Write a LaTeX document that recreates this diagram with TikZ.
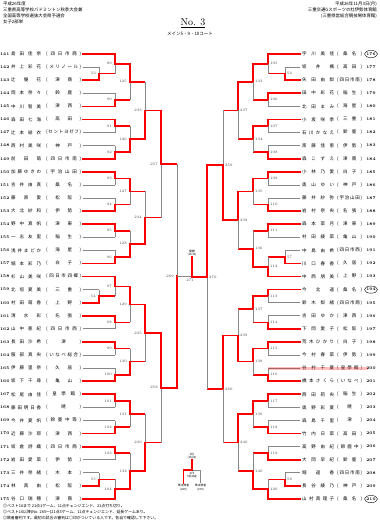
\documentclass[tikz,border=0pt]{standalone}
\usepackage{fontspec}
\newfontfamily\jp{Noto Sans CJK JP}
\usetikzlibrary{calc}

\definecolor{winred}{RGB}{250,0,0}
\definecolor{losegray}{RGB}{135,135,135}

\tikzset{
	win/.style={draw=winred, line width=1.7pt, line cap=rect},
	feed/.style={draw=winred, line width=1.7pt},
	lose/.style={draw=losegray, line width=0.8pt},
	lbl/.style={font=\fontsize{3.6}{4}\selectfont, text=black!75, inner sep=0pt},
	lblL/.style={lbl, anchor=east, xshift=-3pt},
	lblR/.style={lbl, anchor=west, xshift=2pt},
	pno/.style={font=\bfseries\fontsize{4}{5}\selectfont, inner sep=0pt},
	pname/.style={font=\jp\fontsize{4.5}{5}\selectfont, inner sep=0pt, anchor=west},
	head/.style={font=\jp\fontsize{4.4}{6}\selectfont, inner sep=0pt},
	tiny/.style={font=\jp\fontsize{2.8}{3.4}\selectfont, inner sep=0.3pt, align=center},
}

% one bout: name, top feeder, bottom feeder, column, top style, bottom style, number, label style
\newcommand\bout[8]{%
	\coordinate (#1) at ($(#2 -| #4)!.5!(#3 -| #4)$);
	\draw[feed] (#2) -- (#2 -| #4);
	\draw[feed] (#3) -- (#3 -| #4);
	\draw[#5] (#2 -| #4) -- (#1);
	\draw[#6] (#3 -| #4) -- (#1);
	\node[#8] (l#1) at (#1) {#7};
}

\begin{document}
\begin{tikzpicture}[x=1pt, y=-1pt]
	\useasboundingbox (0,0) rectangle (380,528);

	\coordinate (LP) at (99,0);
	\coordinate (L1) at (115,0);
	\coordinate (L2) at (130,0);
	\coordinate (L3) at (145,0);
	\coordinate (L4) at (161,0);
	\coordinate (L5) at (177,0);
	\coordinate (F) at (192,0);
	\coordinate (R5) at (207,0);
	\coordinate (R4) at (223,0);
	\coordinate (R3) at (238,0);
	\coordinate (R2) at (253,0);
	\coordinate (R1) at (268,0);
	\coordinate (RP) at (285,0);

	% headings
	\node[head, anchor=north west, align=left] (info) at (3,1.5)
		{平成26年度\\三重県高等学校バドミントン秋季大会兼\\全国高等学校選抜大会県予選会\\女子2部単};
	\node[head, anchor=north east, align=right] (place) at (377,1.5)
		{平成26年11月3日(月)\\三重交通Gスポーツの杜伊勢体育館\\(三重県営総合競技場体育館)};
	\node[font=\fontsize{10}{10}\selectfont, inner sep=0pt] (sheet) at (193,23) {\underline{No. 3}};
	\node[head, font=\jp\fontsize{4.5}{5}\selectfont] (court) at (190,34) {メイン5・9・10コート};

	% left players
	\foreach \n/\who/\school/\col/\st [count=\i from 0] in {
		141/島 田 佳 奈/四 日 市 商/L1/win,
		142/井 上 彩 花/メ リ ノ ー ル/LP/lose,
		143/辻 優 花/津 商/LP/win,
		144/岡 本 奈 々/鈴 鹿/L1/lose,
		145/中 川 智 美/津 西/L1/win,
		146/森 田 七 海/高 田/L1/win,
		147/辻 本 結 衣/セ ン ト ヨ ゼ フ/L1/lose,
		148/西 村 美 咲/神 戸/L1/lose,
		149/前 田 萌/四 日 市 南/L1/win,
		150/加 藤 ゆ き の/宇 治 山 田/L1/win,
		151/吉 井 由 真/桑 名/L1/lose,
		152/藤 原 愛/松 阪/L1/lose,
		153/大 北 紗 和/伊 勢/L1/win,
		154/野 中 真 帆/津 東/L1/win,
		155/一 志 友 里/稲 生/L1/lose,
		156/浅 井 ま ど か/海 星/L1/lose,
		157/堀 本 彩 乃/白 子/L1/win,
		158/杉 山 美 咲/四 日 市 四 郷/L1/win,
		159/北 垣 夏 美/三 重/LP/lose,
		160/村 田 萌 香/上 野/LP/win,
		161/清 水 彩/名 張/L1/win,
		162/山 中 亜 紀/四 日 市 西/L1/lose,
		163/長 田 沙 希/津/L1/win,
		164/服 部 真 央/い な べ 総 合/L1/lose,
		165/伊 藤 里 奈/久 居/L1/lose,
		166/坂 下 千 尋/亀 山/L1/win,
		167/松 尾 由 佳/皇 學 館/L1/win,
		168/藤 田 明 日 香/暁/L1/lose,
		169/今 井 夏 帆/鈴 鹿 中 等/L1/lose,
		170/近 藤 沙 耶/津 西/L1/win,
		171/坂 倉 詩 織/四 日 市 商/L1/win,
		172/岩 田 愛 菜/伊 勢/L1/lose,
		173/三 井 奈 緒/木 本/LP/lose,
		174/林 真 由/松 阪/LP/win,
		175/谷 口 瑞 穂/津 商/L1/win}
	{
		\pgfmathsetmacro\y{54+13.09*\i}
		\node[pno, anchor=east] (n\n) at (9.5,\y) {\n};
		\node[pname] (m\n) at (11,\y) {\makebox[30pt][s]{\who}};
		\node[pname] (c\n) at (46,\y) {\makebox[35pt][s]{(\ \school\ )}};
		\coordinate (s\n) at (83,\y);
		\draw[\st] (s\n) -- (s\n -| \col) coordinate (p\n);
	}

	% right players
	\foreach \n/\who/\school/\col/\st [count=\i from 0] in {
		176/宇 川 美 佳/桑 名/R1/win,
		177/坂 井 楓/高 田/RP/lose,
		178/矢 田 由 梨/四 日 市 南/RP/win,
		179/田 中 彩 花/稲 生/R1/win,
		180/北 田 ま み/海 星/R1/lose,
		181/小 坂 咲 季/三 重/R1/win,
		182/石 川 か な え/鈴 鹿/R1/lose,
		183/斎 藤 佳 恵/伊 勢/R1/lose,
		184/森 こ ず え/津 商/R1/win,
		185/小 林 乃 愛/白 子/R1/win,
		186/奥 山 ゆ い/神 戸/R1/lose,
		187/藤 井 紗 弥/宇 治 山 田/R1/lose,
		188/岩 村 奈 央/名 張/R1/win,
		189/森 本 菜 月/津 東/R1/win,
		190/村 田 綾 菜/亀 山/R1/lose,
		191/中 島 由 希/四 日 市 西/RP/lose,
		192/川 口 春 香/久 居/RP/win,
		193/中 西 朋 美/上 野/R1/win,
		194/今 北 遥/桑 名/R1/win,
		195/鈴 木 梨 緒/四 日 市 商/R1/lose,
		196/吉 田 ゆ か/津 西/R1/lose,
		197/下 岡 愛 子/松 阪/R1/win,
		198/荒 木 ひ か り/白 子/R1/win,
		199/今 村 春 菜/伊 勢/R1/lose,
		200/谷 村 千 夏/皇 學 館/R1/lose,
		201/橋 本 さ く ら/い な べ/R1/win,
		202/西 田 莉 央/稲 生/R1/win,
		203/奥 野 彩 夏/暁/R1/lose,
		204/森 島 千 里/津/R1/lose,
		205/竹 内 日 菜/高 田/R1/win,
		206/高 野 由 紀/鈴 鹿 中/R1/lose,
		207/大 岡 早 紀/鈴 鹿/R1/win,
		208/堀 遥 香/四 日 市 南/RP/lose,
		209/長 谷 綾 乃/神 戸/RP/win,
		210/山 村 真 理 子/桑 名/R1/win}
	{
		\pgfmathsetmacro\y{54+13.09*\i}
		\node[pname] (m\n) at (302,\y) {\makebox[32pt][s]{\who}};
		\node[pname] (c\n) at (337,\y) {\makebox[25pt][s]{(\ \school\ )}};
		\node[pno] (n\n) at (371,\y) {\n};
		\coordinate (s\n) at (300,\y);
		\draw[\st] (s\n) -- (s\n -| \col) coordinate (p\n);
	}

	% left bracket
	\bout{m53}{p142}{p143}{LP}{lose}{win}{53}{lblL}
	\bout{m54}{p159}{p160}{LP}{lose}{win}{54}{lblL}
	\bout{m55}{p173}{p174}{LP}{lose}{win}{55}{lblL}
	\bout{m89}{p141}{m53}{L1}{win}{lose}{89}{lblL}
	\bout{m90}{p144}{p145}{L1}{lose}{win}{90}{lblL}
	\bout{m91}{p146}{p147}{L1}{win}{lose}{91}{lblL}
	\bout{m92}{p148}{p149}{L1}{lose}{win}{92}{lblL}
	\bout{m93}{p150}{p151}{L1}{win}{lose}{93}{lblL}
	\bout{m94}{p152}{p153}{L1}{lose}{win}{94}{lblL}
	\bout{m95}{p154}{p155}{L1}{win}{lose}{95}{lblL}
	\bout{m96}{p156}{p157}{L1}{lose}{win}{96}{lblL}
	\bout{m97}{p158}{m54}{L1}{win}{lose}{97}{lblL}
	\bout{m98}{p161}{p162}{L1}{win}{lose}{98}{lblL}
	\bout{m99}{p163}{p164}{L1}{win}{lose}{99}{lblL}
	\bout{m100}{p165}{p166}{L1}{lose}{win}{100}{lblL}
	\bout{m101}{p167}{p168}{L1}{win}{lose}{101}{lblL}
	\bout{m102}{p169}{p170}{L1}{lose}{win}{102}{lblL}
	\bout{m103}{p171}{p172}{L1}{win}{lose}{103}{lblL}
	\bout{m104}{m55}{p175}{L1}{lose}{win}{104}{lblL}
	\bout{m125}{m89}{m90}{L2}{win}{lose}{125}{lblL}
	\bout{m126}{m91}{m92}{L2}{lose}{win}{126}{lblL}
	\bout{m127}{m93}{m94}{L2}{win}{lose}{127}{lblL}
	\bout{m128}{m95}{m96}{L2}{lose}{win}{128}{lblL}
	\bout{m129}{m97}{m98}{L2}{win}{lose}{129}{lblL}
	\bout{m130}{m99}{m100}{L2}{lose}{win}{130}{lblL}
	\bout{m131}{m101}{m102}{L2}{win}{lose}{131}{lblL}
	\bout{m132}{m103}{m104}{L2}{lose}{win}{132}{lblL}
	\bout{m233}{m125}{m126}{L3}{lose}{win}{233}{lblL}
	\bout{m234}{m127}{m128}{L3}{lose}{win}{234}{lblL}
	\bout{m235}{m129}{m130}{L3}{win}{lose}{235}{lblL}
	\bout{m236}{m131}{m132}{L3}{lose}{win}{236}{lblL}
	\bout{m257}{m233}{m234}{L4}{win}{lose}{257}{lblL}
	\bout{m258}{m235}{m236}{L4}{win}{lose}{258}{lblL}
	\bout{m269}{m257}{m258}{L5}{lose}{win}{269}{lblL}

	% right bracket
	\bout{m56}{p177}{p178}{RP}{lose}{win}{56}{lblR}
	\bout{m57}{p191}{p192}{RP}{lose}{win}{57}{lblR}
	\bout{m58}{p208}{p209}{RP}{lose}{win}{58}{lblR}
	\bout{m105}{p176}{m56}{R1}{win}{lose}{105}{lblR}
	\bout{m106}{p179}{p180}{R1}{win}{lose}{106}{lblR}
	\bout{m107}{p181}{p182}{R1}{win}{lose}{107}{lblR}
	\bout{m108}{p183}{p184}{R1}{lose}{win}{108}{lblR}
	\bout{m109}{p185}{p186}{R1}{win}{lose}{109}{lblR}
	\bout{m110}{p187}{p188}{R1}{lose}{win}{110}{lblR}
	\bout{m111}{p189}{p190}{R1}{win}{lose}{111}{lblR}
	\bout{m112}{m57}{p193}{R1}{lose}{win}{112}{lblR}
	\bout{m113}{p194}{p195}{R1}{win}{lose}{113}{lblR}
	\bout{m114}{p196}{p197}{R1}{lose}{win}{114}{lblR}
	\bout{m115}{p198}{p199}{R1}{win}{lose}{115}{lblR}
	\bout{m116}{p200}{p201}{R1}{lose}{win}{116}{lblR}
	\bout{m117}{p202}{p203}{R1}{win}{lose}{117}{lblR}
	\bout{m118}{p204}{p205}{R1}{lose}{win}{118}{lblR}
	\bout{m119}{p206}{p207}{R1}{lose}{win}{119}{lblR}
	\bout{m120}{m58}{p210}{R1}{lose}{win}{120}{lblR}
	\bout{m133}{m105}{m106}{R2}{win}{lose}{133}{lblR}
	\bout{m134}{m107}{m108}{R2}{win}{lose}{134}{lblR}
	\bout{m135}{m109}{m110}{R2}{win}{lose}{135}{lblR}
	\bout{m136}{m111}{m112}{R2}{lose}{win}{136}{lblR}
	\bout{m137}{m113}{m114}{R2}{win}{lose}{137}{lblR}
	\bout{m138}{m115}{m116}{R2}{win}{lose}{138}{lblR}
	\bout{m139}{m117}{m118}{R2}{win}{lose}{139}{lblR}
	\bout{m140}{m119}{m120}{R2}{lose}{win}{140}{lblR}
	\bout{m237}{m133}{m134}{R3}{win}{lose}{237}{lblR}
	\bout{m238}{m135}{m136}{R3}{win}{lose}{238}{lblR}
	\bout{m239}{m137}{m138}{R3}{lose}{win}{239}{lblR}
	\bout{m240}{m139}{m140}{R3}{win}{lose}{240}{lblR}
	\bout{m259}{m237}{m238}{R4}{lose}{win}{259}{lblR}
	\bout{m260}{m239}{m240}{R4}{win}{lose}{260}{lblR}
	\bout{m270}{m259}{m260}{R5}{win}{lose}{270}{lblR}

	% final
	\coordinate (champ) at (192,257);
	\draw[lose] (m269) -- (m269 -| F);
	\draw[win] (m270) -- (m270 -| F) -- (champ);
	\node[tiny, anchor=south] (champtxt) at (champ) {優勝\\(15:30)};
	\node[lbl, anchor=north] (l271) at ($(m269 -| F)+(-2,2.5)$) {271};

	% third place
	\coordinate (third) at (192,460);
	\coordinate (thirdm) at (192,470);
	\coordinate (thirdl) at (183.5,483);
	\coordinate (thirdr) at (200.5,483);
	\draw[lose] (thirdr) |- (thirdm);
	\draw[win] (thirdl) |- (thirdm) -- (third);
	\node[tiny, anchor=south] (thirdtxt) at (third) {3位\\(15:00)};
	\node[tiny, anchor=north] (l272) at ($(thirdm)+(0,1.5)$) {272\\3位決定};
	\node[tiny, anchor=north] (semil) at ($(thirdl)+(0,1)$) {準決敗者\\(269)};
	\node[tiny, anchor=north] (semir) at ($(thirdr)+(0,1)$) {準決敗者\\(270)};

	% seeds and withdrawal
	\draw[line width=0.4pt] (n176) ellipse (6.5 and 3.6);
	\draw[line width=0.4pt] (n194) ellipse (6.5 and 3.6);
	\draw[line width=0.4pt] (n210) ellipse (6.5 and 3.6);
	\draw[winred, opacity=0.25, line width=3pt] (p200) -- ++(100,0);

	% notes
	\node[head, font=\jp\fontsize{3.9}{6}\selectfont, anchor=north west, align=left] (notes) at (3,504)
		{◎ベスト16まで 21点1ゲーム、11点チェンジエンド、21点打ち切り。\\
		◎ベスト16以降(No. 265～)21点3ゲーム、11点チェンジエンド、延長ゲームあり。\\
		◎敗者審判です。最初の試合の審判は○印がついている人です。各自で確認して下さい。};
\end{tikzpicture}
\end{document}
